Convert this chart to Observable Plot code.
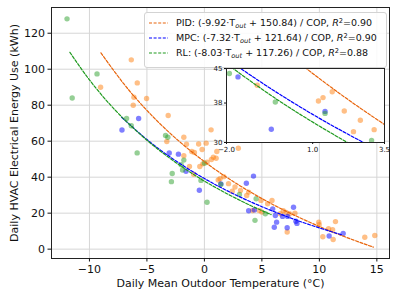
<!DOCTYPE html>
<html>
<head>
<meta charset="utf-8">
<script src="https://cdn.jsdelivr.net/npm/d3@7"></script>
<script src="https://cdn.jsdelivr.net/npm/@observablehq/plot@0.6"></script>
<style>
  html, body { margin: 0; padding: 0; background: white; }
  #wrap { position: relative; width: 397px; height: 297px; font-family: "DejaVu Sans", sans-serif; }
  #legend { position: absolute; left: 144px; top: 12px; width: 243px; height: 56px; box-sizing: border-box;
            background: rgba(255,255,255,0.85); border: 1px solid #d3d3d3; border-radius: 3px; }
  .row { position: absolute; left: 0; height: 14px; line-height: 14px; font-size: 9.5px; white-space: nowrap; color: #111; }
  .row svg { position: absolute; left: 3px; top: 0; }
  .row span.t { position: absolute; left: 31px; top: 0; }
  .sub { font-size: 70%; font-style: italic; position: relative; top: 0.3em; }
  .sup { font-size: 70%; position: relative; top: -0.45em; }
  #inset { position: absolute; left: 206px; top: 66px; }
</style>
</head>
<body>
<div id="wrap"></div>
<script>
// ---- data ----
const pidT = [-9.03,-6.36,-5.84,-6.13,-6.19,-5.03,-3.15,-3.27,-1.79,-1.56,-0.5,0.15,-1.1,-0.87,-1.79,-1.3,-0.4,-0.93,0.58,-0.2,1.08,0.78,0.61,1.02,0.23,-0.14,1.2,1.36,1.68,2.1,2.66,2.42,3.14,2.95,3.85,3.68,4.92,5.5,5.88,4.2,4.77,5.0,6.6,6.86,7.1,7.4,7.87,7.2,9.95,9.98,11.4,10.3,11.15,10.8,11.2,13.95,14.82];
const pidE = [90.0,105.2,92.4,84.4,80.0,83.7,74.3,59.8,62.2,58.3,58.4,58.9,54.3,53.7,51.9,45.9,45.9,41.6,66.3,55.4,54.3,51.1,49.8,50.5,48.3,47.4,38.4,39.1,40.3,36.4,34.5,32.2,32.6,56.1,31.7,29.8,27.1,25.2,27.1,21.5,21.5,20.6,19.7,21.3,20.4,19.7,20.0,9.5,15.0,13.6,15.3,6.9,10.8,11.3,5.4,6.6,7.6];

const mpcT = [-7.17,-5.72,-3.06,-2.26,-1.6,-0.44,1.43,3.65,4.27,3.85,4.35,5.94,6.17,6.8,6.28,7.75,7.24,7.96,8.05,7.2,6.08,10.85,12.07];
const mpcE = [66.2,72.6,53.4,52.8,43.3,32.7,36.3,36.6,40.6,21.3,21.8,22.4,18.7,18.2,15.0,23.3,18.2,15.5,14.3,11.9,12.2,7.3,8.7];

const rlT = [-11.95,-9.34,-11.5,-6.77,-6.36,-5.85,-3.38,-3.18,-1.79,-2.02,-1.9,-2.8,-2.87,-0.3,0.0,1.43,3.05,0.23,4.5,5.3,4.4];
const rlE = [128.0,97.4,84.0,72.6,68.6,53.5,63.2,62.2,49.5,46.9,44.0,42.0,37.5,38.2,47.8,35.9,30.4,26.1,28.0,19.7,16.0];

// fitted curves, points
const fitPidT = [-9,-7,-5,-3,-1,1,3,5,7,9,11,13,14.7];
const fitPidE = [109.1,91.8,77.1,64.5,53.6,44.0,35.6,28.1,21.4,15.4,9.9,5.0,1.1];
const fitMpcT = [-7.2,-5,-3,-1,1,3,5,7,9,11,12];
const fitMpcE = [73.3,60.9,51.3,43.0,35.7,29.3,23.6,18.5,13.9,9.8,7.9];
const fitRlT = [-11.7,-10,-8,-6,-4,-2,0,2,4,5.8];
const fitRlE = [109.4,94.1,78.9,66.2,55.3,46.0,37.8,30.7,24.3,19.2];

const xTicks = [-10,-5,0,5,10,15];
const yTicks = [0,20,40,60,80,100,120];
const insetXTicks = [-2.0,1.0,3.5];
const insetYTicks = [30,38,45];

const legendLabels = [
  {name: "PID", a: "-9.92", b: "150.84", r2: "0.90"},
  {name: "MPC", a: "-7.32", b: "121.64", r2: "0.90"},
  {name: "RL",  a: "-8.03", b: "117.26", r2: "0.88"}
];

// ---- styling ----
const dotCol = {pid: "#ff7f0e", mpc: "#0000ff", rl: "#2ca02c"};
const lineCol = {pid: "#e8650c", mpc: "#0000ff", rl: "#1f9a1f"};
const dash = "3,1.6";

const zip = (T, E) => T.map((t, i) => ({t, e: E[i]}));
const pid = zip(pidT, pidE), mpc = zip(mpcT, mpcE), rl = zip(rlT, rlE);
const fPid = zip(fitPidT, fitPidE), fMpc = zip(fitMpcT, fitMpcE), fRl = zip(fitRlT, fitRlE);

function dataMarks(r, clip) {
  const d = (data, c) => Plot.dot(data, {x: "t", y: "e", r, fill: c, fillOpacity: 0.5, stroke: "none", clip});
  const l = (data, c) => Plot.line(data, {x: "t", y: "e", stroke: c, strokeWidth: 1.2, strokeDasharray: dash, curve: "natural", clip});
  return [
    d(pid, dotCol.pid), d(mpc, dotCol.mpc), d(rl, dotCol.rl),
    l(fPid, lineCol.pid), l(fMpc, lineCol.mpc), l(fRl, lineCol.rl)
  ];
}

const main = Plot.plot({
  width: 397, height: 297,
  marginLeft: 51, marginRight: 8, marginTop: 7, marginBottom: 39,
  style: {fontFamily: "DejaVu Sans", fontSize: "11px", background: "white", color: "#111"},
  x: {domain: [-13.3, 16.1]},
  y: {domain: [-5.2, 134.3]},
  marks: [
    Plot.gridX(xTicks, {stroke: "#d6d6d6", strokeOpacity: 1}),
    Plot.gridY(yTicks, {stroke: "#d6d6d6", strokeOpacity: 1}),
    ...dataMarks(2.7, false),
    Plot.frame({stroke: "#222"}),
    Plot.axisX(xTicks, {tickSize: 3.5, tickPadding: 3, label: null, fontSize: 11}),
    Plot.axisY(yTicks, {tickSize: 3.5, tickPadding: 3, label: null, fontSize: 11}),
    Plot.text(["Daily Mean Outdoor Temperature (°C)"], {frameAnchor: "bottom", dy: 25, lineAnchor: "middle", textAnchor: "middle", fontSize: 11}),
    Plot.text(["Daily HVAC Electrical Energy Use (kWh)"], {frameAnchor: "left", dx: -37.5, rotate: -90, textAnchor: "middle", lineAnchor: "middle", fontSize: 11})
  ]
});

const fmt1 = d => d.toFixed(1).replace("-", "\u2212");
const inset = Plot.plot({
  width: 184, height: 90,
  marginLeft: 20, marginRight: 6, marginTop: 2, marginBottom: 14,
  style: {fontFamily: "DejaVu Sans", fontSize: "7px", background: "transparent", color: "#111", overflow: "visible"},
  x: {domain: [-2, 3.5]},
  y: {domain: [30, 45]},
  marks: [
    Plot.frame({fill: "white", stroke: "none"}),
    ...dataMarks(2.7, true),
    Plot.frame({stroke: "#222"}),
    Plot.axisX(insetXTicks, {tickSize: 2, tickPadding: 2.5, tickFormat: fmt1, label: null, fontSize: 7}),
    Plot.axisY(insetYTicks, {tickSize: 2, tickPadding: 2, label: null, fontSize: 7})
  ]
});
inset.id = "inset";

const wrap = document.getElementById("wrap");
wrap.appendChild(main);

const legend = document.createElement("div");
legend.id = "legend";
const cols = [lineCol.pid, lineCol.mpc, lineCol.rl];
legendLabels.forEach((L, i) => {
  const row = document.createElement("div");
  row.className = "row";
  row.style.top = (2.7 + i * 15) + "px";
  row.style.width = "100%";
  row.innerHTML =
    `<svg width="22" height="14"><line x1="1" x2="20" y1="7" y2="7" stroke="${cols[i]}" stroke-width="1.2" stroke-dasharray="${dash}"/></svg>` +
    `<span class="t">${L.name}: (${L.a}\u00b7T<span class="sub">out</span> + ${L.b}) / COP, <i>R</i><span class="sup">2</span>=${L.r2}</span>`;
  legend.appendChild(row);
});
wrap.appendChild(legend);
wrap.appendChild(inset);
</script>
</body>
</html>
